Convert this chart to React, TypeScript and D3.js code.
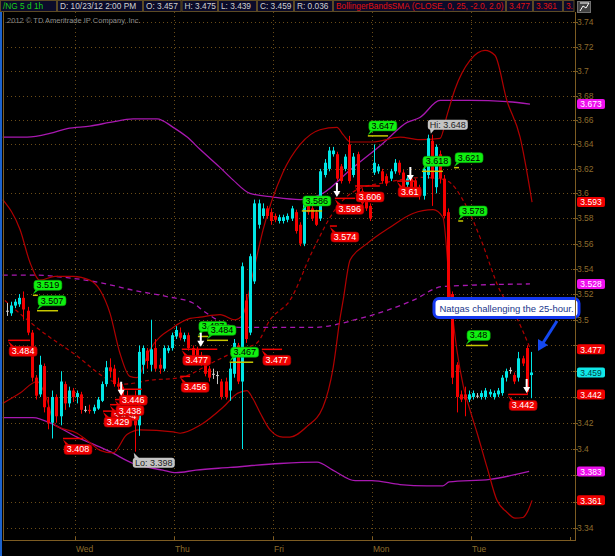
import React from 'react';
import * as d3 from 'd3';

type Bar = [number, number, number, number]; // open, high, low, close

// hourly bars /NG, Tue 07:00 .. Tue 14:00
const bars: Bar[] = [
  [3.507, 3.513, 3.503, 3.507], [3.505, 3.514, 3.503, 3.511], [3.511, 3.516, 3.509, 3.514], [3.512, 3.520, 3.510, 3.517],
  [3.517, 3.522, 3.500, 3.508], [3.507, 3.510, 3.488, 3.490], [3.490, 3.492, 3.452, 3.455], [3.455, 3.457, 3.438, 3.441],
  [3.442, 3.472, 3.440, 3.465], [3.464, 3.466, 3.428, 3.432], [3.432, 3.440, 3.415, 3.420], [3.420, 3.445, 3.408, 3.440],
  [3.440, 3.442, 3.420, 3.425], [3.425, 3.460, 3.418, 3.452], [3.450, 3.452, 3.430, 3.435], [3.435, 3.448, 3.432, 3.445],
  [3.445, 3.447, 3.436, 3.440], [3.440, 3.445, 3.435, 3.443], [3.442, 3.444, 3.427, 3.430], [3.430, 3.433, 3.428, 3.430],
  [3.430, 3.434, 3.427, 3.429], [3.429, 3.434, 3.427, 3.432], [3.431, 3.440, 3.430, 3.438], [3.437, 3.452, 3.436, 3.450],
  [3.450, 3.468, 3.448, 3.463], [3.463, 3.470, 3.455, 3.460], [3.462, 3.465, 3.448, 3.450], [3.450, 3.455, 3.446, 3.448],
  [3.448, 3.450, 3.438, 3.440], [3.440, 3.445, 3.432, 3.434], [3.434, 3.438, 3.425, 3.429], [3.430, 3.445, 3.398, 3.418],
  [3.418, 3.480, 3.410, 3.475], [3.465, 3.480, 3.458, 3.478], [3.476, 3.478, 3.462, 3.468], [3.465, 3.500, 3.460, 3.477],
  [3.478, 3.485, 3.460, 3.462], [3.465, 3.470, 3.458, 3.462], [3.462, 3.480, 3.460, 3.478], [3.476, 3.480, 3.474, 3.478],
  [3.478, 3.490, 3.476, 3.488], [3.487, 3.495, 3.485, 3.492], [3.490, 3.494, 3.484, 3.486], [3.485, 3.490, 3.483, 3.488],
  [3.488, 3.490, 3.476, 3.478], [3.478, 3.480, 3.470, 3.472], [3.477, 3.479, 3.468, 3.470], [3.472, 3.475, 3.464, 3.465],
  [3.468, 3.470, 3.456, 3.458], [3.462, 3.464, 3.452, 3.455], [3.458, 3.462, 3.454, 3.458], [3.457, 3.460, 3.450, 3.457],
  [3.452, 3.454, 3.438, 3.440], [3.452, 3.455, 3.438, 3.440], [3.445, 3.467, 3.437, 3.462], [3.458, 3.485, 3.455, 3.482],
  [3.480, 3.482, 3.450, 3.452], [3.452, 3.545, 3.400, 3.542], [3.515, 3.520, 3.482, 3.485], [3.490, 3.552, 3.488, 3.550],
  [3.530, 3.595, 3.528, 3.592], [3.575, 3.595, 3.572, 3.592], [3.582, 3.592, 3.580, 3.588], [3.588, 3.590, 3.580, 3.582],
  [3.585, 3.588, 3.575, 3.578], [3.582, 3.584, 3.577, 3.579], [3.578, 3.583, 3.576, 3.581], [3.578, 3.583, 3.576, 3.581],
  [3.579, 3.584, 3.577, 3.582], [3.580, 3.590, 3.578, 3.588], [3.585, 3.587, 3.568, 3.570], [3.575, 3.577, 3.558, 3.560],
  [3.560, 3.596, 3.558, 3.593], [3.592, 3.594, 3.583, 3.585], [3.588, 3.590, 3.578, 3.580], [3.585, 3.587, 3.574, 3.575],
  [3.580, 3.620, 3.578, 3.618], [3.615, 3.628, 3.613, 3.625], [3.620, 3.638, 3.618, 3.635], [3.632, 3.638, 3.630, 3.635],
  [3.632, 3.634, 3.610, 3.612], [3.622, 3.624, 3.608, 3.610], [3.620, 3.632, 3.618, 3.630], [3.640, 3.647, 3.608, 3.610],
  [3.615, 3.633, 3.613, 3.630], [3.632, 3.634, 3.594, 3.596], [3.602, 3.604, 3.590, 3.592], [3.598, 3.600, 3.586, 3.588],
  [3.590, 3.592, 3.578, 3.580], [3.617, 3.640, 3.615, 3.625], [3.618, 3.624, 3.616, 3.622], [3.618, 3.620, 3.608, 3.610],
  [3.614, 3.616, 3.606, 3.608], [3.612, 3.620, 3.610, 3.618], [3.618, 3.628, 3.616, 3.625], [3.625, 3.627, 3.615, 3.617],
  [3.617, 3.619, 3.603, 3.605], [3.607, 3.614, 3.605, 3.612], [3.612, 3.614, 3.603, 3.605], [3.610, 3.612, 3.598, 3.600],
  [3.605, 3.607, 3.595, 3.598], [3.598, 3.622, 3.595, 3.620], [3.615, 3.648, 3.612, 3.645], [3.643, 3.648, 3.590, 3.612],
  [3.605, 3.640, 3.600, 3.638], [3.632, 3.635, 3.608, 3.612], [3.612, 3.615, 3.580, 3.582], [3.585, 3.588, 3.512, 3.515],
  [3.520, 3.522, 3.450, 3.455], [3.465, 3.467, 3.428, 3.440], [3.442, 3.445, 3.436, 3.438], [3.442, 3.448, 3.425, 3.438],
  [3.438, 3.445, 3.436, 3.442], [3.440, 3.445, 3.438, 3.443], [3.441, 3.443, 3.439, 3.441], [3.440, 3.445, 3.438, 3.443],
  [3.440, 3.447, 3.438, 3.445], [3.442, 3.446, 3.440, 3.444], [3.440, 3.445, 3.438, 3.443], [3.442, 3.447, 3.440, 3.445],
  [3.443, 3.457, 3.441, 3.455], [3.455, 3.462, 3.452, 3.460], [3.461, 3.463, 3.458, 3.461], [3.457, 3.459, 3.450, 3.452],
  [3.455, 3.475, 3.452, 3.470], [3.470, 3.472, 3.464, 3.466], [3.478, 3.480, 3.442, 3.444], [3.457, 3.475, 3.439, 3.459],
];

const dayNames = ['Wed', 'Thu', 'Fri', 'Mon', 'Tue', ''];
const dayStarts = [16.5, 40.5, 64.5, 88.5, 112.5, 136.5];
const priceTicks = [3.34, 3.36, 3.38, 3.4, 3.42, 3.44, 3.46, 3.48, 3.5, 3.52, 3.54, 3.56, 3.58, 3.6, 3.62, 3.64, 3.66, 3.68, 3.7, 3.72, 3.74];

// Bollinger SMA(25) knots [bar index, price]
const bbUpper: [number, number][] = [
  [-1, 3.595], [3.2, 3.571], [5.6, 3.545], [8, 3.531], [11.7, 3.534], [16, 3.534], [20.1, 3.531], [22.6, 3.523],
  [25, 3.505], [27.4, 3.474], [29.8, 3.456], [31.5, 3.455], [34.7, 3.477], [40.3, 3.494], [44.4, 3.501], [46.8, 3.502],
  [51.7, 3.504], [55.3, 3.5], [57.2, 3.504], [59.7, 3.537], [62.1, 3.571], [66.9, 3.617], [71.1, 3.64], [75.9, 3.652],
  [80, 3.654], [81.5, 3.648], [83.2, 3.642], [88.7, 3.642], [95.3, 3.646], [100.1, 3.644], [105, 3.645], [106.7, 3.664],
  [108.6, 3.685], [112.3, 3.709], [115.9, 3.717], [118.3, 3.713], [121.2, 3.676], [124.4, 3.646], [127.3, 3.593],
];
const bbMid: [number, number][] = [
  [-0.5, 3.515], [8, 3.492], [16.5, 3.473], [25, 3.453], [28.6, 3.45], [34.7, 3.453], [42, 3.455], [50, 3.467],
  [56.5, 3.477], [60.6, 3.482], [63.8, 3.5], [68.6, 3.515], [74.2, 3.555], [80, 3.589], [84.9, 3.603], [92.1, 3.609],
  [100.9, 3.613], [106.2, 3.611], [111.5, 3.589], [114.7, 3.565], [119.5, 3.523], [123.2, 3.504], [126.8, 3.478],
];
const bbLower: [number, number][] = [
  [-1, 3.435], [3.2, 3.443], [7.3, 3.452], [9.7, 3.438], [11.7, 3.418], [17, 3.412], [20.1, 3.405], [22.6, 3.399],
  [25.7, 3.397], [29.1, 3.411], [32.3, 3.4145], [40.3, 3.413], [42, 3.412], [46.8, 3.418], [52.4, 3.432], [56, 3.443],
  [58.2, 3.445], [59.4, 3.44], [61.4, 3.4275], [63.8, 3.4145], [66.9, 3.409], [68.6, 3.409], [72.7, 3.417], [76.6, 3.432],
  [79.1, 3.463], [80.8, 3.502], [81.5, 3.515], [83.2, 3.547], [87.3, 3.56], [92.9, 3.573], [98.4, 3.584], [103.3, 3.587],
  [105.7, 3.581], [107.4, 3.523], [109.1, 3.476], [110.6, 3.449], [112.3, 3.4295], [114, 3.412], [116.4, 3.386],
  [118.8, 3.361], [121.2, 3.352], [123.2, 3.3475], [125.1, 3.348], [126.3, 3.353], [127.3, 3.361],
];
// longer Bollinger (magenta)
const longUpper: [number, number][] = [
  [-1, 3.646], [4.9, 3.646], [10.4, 3.649], [14.6, 3.653], [20.1, 3.655], [25, 3.658], [30.6, 3.661], [36.4, 3.661],
  [40.3, 3.654], [43.7, 3.646], [46.8, 3.636], [51.7, 3.621], [54.8, 3.611], [58.9, 3.6], [64.5, 3.597], [71.1, 3.595],
  [76.6, 3.6], [83.2, 3.619], [91.2, 3.641], [97, 3.658], [100.1, 3.662], [105, 3.676], [112.3, 3.676], [121.2, 3.675],
  [126.8, 3.673],
];
const longMid: [number, number][] = [
  [-1, 3.535], [6.3, 3.535], [14.6, 3.533], [22.6, 3.529], [30.6, 3.523], [38.8, 3.518], [45.1, 3.513], [48, 3.506],
  [56.5, 3.494], [74.2, 3.494], [85.6, 3.501], [98.4, 3.515], [105.7, 3.526], [126.8, 3.528],
];
const longLower: [number, number][] = [
  [-1, 3.424], [6.3, 3.424], [11.7, 3.418], [17, 3.409], [22.6, 3.4015], [25, 3.398], [30.6, 3.389], [37.8, 3.384],
  [41, 3.382], [45.8, 3.384], [54.1, 3.386], [66.2, 3.389], [75.2, 3.39], [79, 3.384], [84.4, 3.376], [88.5, 3.376],
  [95.3, 3.373], [101.8, 3.372], [105.7, 3.372], [107.2, 3.375], [117.1, 3.377], [126.6, 3.383],
];

// swing labels: value, line from/to bar index
const highLabels = [
  { v: '3.519', from: 6.3, to: 7.5 }, { v: '3.507', from: 7.3, to: 12.4 },
  { v: '3.487', from: 46.3, to: 48.8 }, { v: '3.484', from: 48.5, to: 53.6 },
  { v: '3.467', from: 54, to: 59.7 }, { v: '3.586', from: 71.5, to: 76.4 },
  { v: '3.647', from: 87.5, to: 92.4 }, { v: '3.618', from: 100.6, to: 105.7 },
  { v: '3.621', from: 108.4, to: 109.6 }, { v: '3.578', from: 109.4, to: 110.6 },
  { v: '3.48', from: 111.3, to: 116.6 },
];
const lowLabels = [
  { v: '3.484', from: 0.3, to: 5.6 }, { v: '3.408', from: 13.6, to: 18.5 },
  { v: '3.434', from: 25, to: 29.8 }, { v: '3.429', from: 23.3, to: 28.6 },
  { v: '3.438', from: 26.2, to: 31.1 }, { v: '3.446', from: 27, to: 32.7 },
  { v: '3.477', from: 42.4, to: 51 }, { v: '3.456', from: 42, to: 44.4 },
  { v: '3.477', from: 61.8, to: 66.7 }, { v: '3.574', from: 78.3, to: 80 },
  { v: '3.596', from: 79.5, to: 84.4 }, { v: '3.606', from: 84.4, to: 90.4 },
  { v: '3.61', from: 94.6, to: 99.4 }, { v: '3.442', from: 121.5, to: 126.3 },
];
const arrows = [
  { i: 27.7, tip: 3.441 }, { i: 47, tip: 3.479 }, { i: 80, tip: 3.597 }, { i: 97.8, tip: 3.61 }, { i: 126, tip: 3.443 },
];
const hiMark = { i: 103, v: 3.648 };
const loMark = { i: 31, v: 3.398 };
const priceTags = [
  { v: 3.673, kind: 'm' }, { v: 3.593, kind: 'r' }, { v: 3.528, kind: 'm' }, { v: 3.477, kind: 'r' },
  { v: 3.459, kind: 'c' }, { v: 3.442, kind: 'r' }, { v: 3.383, kind: 'm' }, { v: 3.361, kind: 'r' },
];
const headerCells = [
  { t: '/NG 5 d 1h', w: 57, c: '#18d018' }, { t: 'D: 10/23/12 2:00 PM', w: 86, c: '#d0d0d0' },
  { t: 'O: 3.457', w: 38.5, c: '#d0d0d0' }, { t: 'H: 3.475', w: 36.5, c: '#d0d0d0' },
  { t: 'L: 3.439', w: 39, c: '#d0d0d0' }, { t: 'C: 3.459', w: 37, c: '#d0d0d0' },
  { t: 'R: 0.036', w: 39, c: '#d0d0d0' }, { t: 'BollingerBandsSMA (CLOSE, 0, 25, -2.0, 2.0)', w: 173, c: '#e01010' },
  { t: '3.477', w: 27, c: '#e01010' }, { t: '3.361', w: 30, c: '#e01010' }, { t: '3.', w: 11.5, c: '#e01010' },
];
const note = 'Natgas challenging the 25-hour.';

const FONT = '"Liberation Sans", Arial, sans-serif';
const GRID = '#6a4c18';
const AXIS = '#7d5c22';
const UP = '#00e6e6';
const DOWN = '#f40000';

export default function App() {
  const x = d3.scaleLinear().domain([0, 127]).range([6.9, 530.8]);
  const y = d3.scaleLinear().domain([3.34, 3.42, 3.52, 3.6, 3.72]).range([528, 422.7, 294, 193.3, 46.7]);
  const line = d3.line<[number, number]>().x((d) => x(d[0])).y((d) => y(d[1])).curve(d3.curveMonotoneX);
  const plotL = 3, plotR = 575, plotT = 12, plotB = 540;

  let hx = 0;
  const header = headerCells.map((c) => {
    const el = (
      <g key={c.t + hx}>
        <rect x={hx + 0.5} y={0.5} width={c.w - 1} height={11} fill="#0b0b2a" stroke="#5c4a24" />
        <text x={hx + 3} y={9} fill={c.c} fontSize={8.3} fontFamily={FONT}>{c.t}</text>
      </g>
    );
    hx += c.w;
    return el;
  });

  // tick labels hidden where a price tag covers them
  const visibleTicks = priceTicks.filter((t) => priceTags.every((p) => Math.abs(y(p.v) - y(t)) > 7));

  return (
    <svg width={615} height={556} style={{ position: 'absolute', left: 0, top: 0, background: '#000' }}>
      <rect width={615} height={556} fill="#000" />
      <rect x={0} y={0} width={2} height={556} fill="#1c62cc" />
      {/* grid */}
      {priceTicks.map((t) => (
        <line key={'g' + t} x1={plotL} x2={plotR} y1={Math.round(y(t)) + 0.5} y2={Math.round(y(t)) + 0.5}
          stroke={GRID} strokeDasharray="1,3" />
      ))}
      {dayStarts.slice(0, 5).map((d) => (
        <line key={'v' + d} x1={Math.round(x(d)) + 0.5} x2={Math.round(x(d)) + 0.5} y1={plotT} y2={plotB}
          stroke={GRID} strokeDasharray="1,3" />
      ))}
      <text x={5} y={23} fill="#8c8c8c" fontSize={7.5} fontFamily={FONT}>.2012 © TD Ameritrade IP Company, Inc.</text>
      {/* long bands */}
      <path d={line(longUpper) || ''} fill="none" stroke="#a818b0" strokeWidth={1.3} />
      <path d={line(longLower) || ''} fill="none" stroke="#a818b0" strokeWidth={1.3} />
      <path d={line(longMid) || ''} fill="none" stroke="#a818b0" strokeWidth={1.3} strokeDasharray="5,4" />
      {/* BB 25 */}
      <path d={line(bbUpper) || ''} fill="none" stroke="#b00000" strokeWidth={1.2} />
      <path d={line(bbLower) || ''} fill="none" stroke="#b00000" strokeWidth={1.2} />
      <path d={line(bbMid) || ''} fill="none" stroke="#b00000" strokeWidth={1.2} strokeDasharray="4,3" />
      {/* candles */}
      {bars.map((b, i) => {
        const [o, h, l, c] = b;
        const col = c > o ? UP : c < o ? DOWN : '#c8c8c8';
        const cx = x(i);
        const top = y(Math.max(o, c));
        const bh = Math.max(1, y(Math.min(o, c)) - top);
        return (
          <g key={'b' + i}>
            <line x1={Math.round(cx) + 0.5} x2={Math.round(cx) + 0.5} y1={y(h)} y2={y(l)} stroke={col} />
            <rect x={Math.round(cx) - 1} y={top} width={3} height={bh} fill={col} />
          </g>
        );
      })}
      {/* swing high labels */}
      {highLabels.map((lb, k) => {
        const ly = y(+lb.v);
        const x0 = x(lb.from);
        const w = lb.v.length * 4.8 + 4;
        return (
          <g key={'h' + k}>
            <line x1={x0} x2={x(lb.to)} y1={ly} y2={ly} stroke="#c8c800" strokeWidth={1.5} />
            <path d={`M${x0 + 3},${ly - 6} L${x0},${ly - 1} L${x0 + 7},${ly - 6}Z`} fill="#10e010" />
            <rect x={x0 + 1} y={ly - 15} width={w} height={10} rx={3} fill="#10f010" stroke="#0a9a0a" strokeWidth={0.6} />
            <text x={x0 + 1 + w / 2} y={ly - 7} textAnchor="middle" fontSize={9} fontFamily={FONT} fill="#000">{lb.v}</text>
          </g>
        );
      })}
      {/* swing low labels */}
      {lowLabels.map((lb, k) => {
        const ly = y(+lb.v);
        const x0 = x(lb.from);
        const w = lb.v.length * 4.8 + 4;
        return (
          <g key={'l' + k}>
            <line x1={x0} x2={x(lb.to)} y1={ly} y2={ly} stroke="#f00000" strokeWidth={1.5} />
            <path d={`M${x0 + 3},${ly + 7} L${x0},${ly + 1} L${x0 + 7},${ly + 7}Z`} fill="#f00000" />
            <rect x={x0 + 1} y={ly + 6} width={w} height={10} rx={3} fill="#f00000" stroke="#a00000" strokeWidth={0.6} />
            <text x={x0 + 1 + w / 2} y={ly + 14} textAnchor="middle" fontSize={9} fontFamily={FONT} fill="#fff">{lb.v}</text>
          </g>
        );
      })}
      {/* Hi / Lo */}
      {(() => {
        const hx0 = x(hiMark.i) - 4, hy = y(hiMark.v);
        const lx0 = x(loMark.i) - 2, ly = y(loMark.v);
        return (
          <g fontSize={9} fontFamily={FONT}>
            <path d={`M${hx0 + 2},${hy - 7} L${hx0 + 3},${hy - 1} L${hx0 + 8},${hy - 7}Z`} fill="#c4c4c4" />
            <rect x={hx0} y={hy - 15} width={40} height={10} rx={3} fill="#c4c4c4" />
            <text x={hx0 + 20} y={hy - 7} textAnchor="middle" fill="#222">{'Hi: ' + hiMark.v.toFixed(3)}</text>
            <path d={`M${lx0 + 2},${ly + 8} L${lx0 + 1},${ly + 1} L${lx0 + 8},${ly + 8}Z`} fill="#c4c4c4" />
            <rect x={lx0} y={ly + 6} width={42} height={10} rx={3} fill="#c4c4c4" />
            <text x={lx0 + 21} y={ly + 14} textAnchor="middle" fill="#222">{'Lo: ' + loMark.v.toFixed(3)}</text>
          </g>
        );
      })()}
      {/* arrows */}
      {arrows.map((a, k) => {
        const ax = x(a.i), ay = y(a.tip);
        return (
          <path key={'a' + k} fill="#fff"
            d={`M${ax},${ay} L${ax - 3.5},${ay - 6} L${ax - 1},${ay - 6} L${ax - 1},${ay - 14} L${ax + 1},${ay - 14} L${ax + 1},${ay - 6} L${ax + 3.5},${ay - 6}Z`} />
        );
      })}
      {/* callout */}
      <rect x={434} y={298.5} width={145} height={19} rx={5} fill="#fff" stroke="#1438f0" strokeWidth={3} />
      <text x={506.5} y={311.5} textAnchor="middle" fontSize={9.5} fontFamily={FONT} fill="#20368c">{note}</text>
      <line x1={557} y1={321} x2={543} y2={343} stroke="#1448f0" strokeWidth={3} />
      <path d="M538,351 L538,339 L548,345 Z" fill="#1448f0" />
      {/* axes */}
      <line x1={plotL + 0.5} x2={plotL + 0.5} y1={plotT} y2={plotB} stroke={AXIS} />
      <line x1={plotR + 0.5} x2={plotR + 0.5} y1={plotT} y2={plotB} stroke={AXIS} />
      <line x1={plotL} x2={plotR + 1} y1={plotB + 0.5} y2={plotB + 0.5} stroke={AXIS} />
      {dayStarts.map((d, k) => (
        <g key={'d' + k}>
          <line x1={Math.round(x(d)) + 0.5} x2={Math.round(x(d)) + 0.5} y1={plotB - 3} y2={plotB} stroke={AXIS} />
          <text x={x(d) + 1} y={552} fill="#8d6c2c" fontSize={8.5} fontFamily={FONT}>{dayNames[k]}</text>
        </g>
      ))}
      {priceTicks.map((t) => (
        <line key={'tm' + t} x1={plotR - 2} x2={plotR + 3} y1={Math.round(y(t)) + 0.5} y2={Math.round(y(t)) + 0.5} stroke={AXIS} />
      ))}
      {visibleTicks.map((t) => (
        <text key={'t' + t} x={577} y={y(t) + 3} fill="#8d6c2c" fontSize={8.5} fontFamily={FONT}>{String(+t.toFixed(2))}</text>
      ))}
      {priceTags.map((p) => {
        const fill = p.kind === 'm' ? '#ee10ee' : p.kind === 'r' ? '#f00000' : '#10e8e8';
        const tc = p.kind === 'c' ? '#064040' : '#fff';
        return (
          <g key={'p' + p.v}>
            <rect x={577} y={y(p.v) - 5} width={28} height={10} rx={2} fill={fill} />
            <text x={591} y={y(p.v) + 3.3} textAnchor="middle" fontSize={8.5} fontFamily={FONT} fill={tc}>{p.v.toFixed(3)}</text>
          </g>
        );
      })}
      {/* header */}
      {header}
      <rect x={577.5} y={1.5} width={13} height={11} fill="#404040" stroke="#707070" />
      <path d="M580,11 L583,6 L586,8 L589,3" fill="none" stroke="#fff" strokeWidth={1} />
      <line x1={580} x2={589} y1={3} y2={3} stroke="#fff" />
    </svg>
  );
}
